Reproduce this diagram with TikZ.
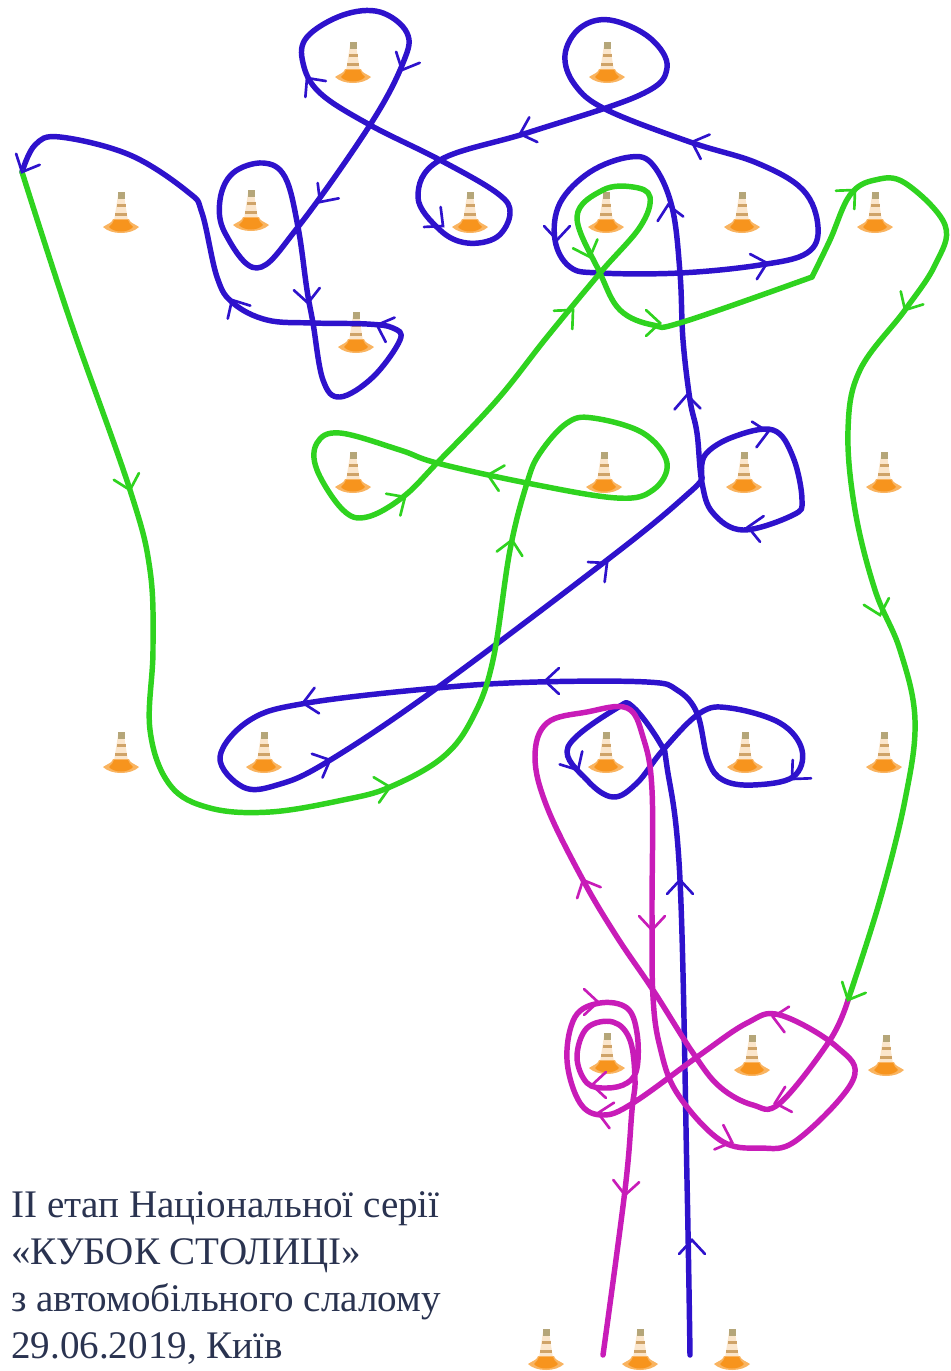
\documentclass[tikz,border=0pt]{standalone}
\usepackage{fontspec}
\setmainfont{Liberation Serif}
\definecolor{bluepath}{HTML}{2E12CC}
\definecolor{greenpath}{HTML}{2FD31F}
\definecolor{magpath}{HTML}{C81CB8}
\definecolor{conebase}{HTML}{F7941D}
\definecolor{coneband}{HTML}{FBE6CC}
\definecolor{conestripe}{HTML}{CFA368}
\definecolor{conetip}{HTML}{B5A679}
\definecolor{textcol}{HTML}{2A3350}
\tikzset{
  route/.style={line width=4.1pt,line join=round,line cap=round},
  coneform/.pic={
    \fill[coneband] (-7,8) -- (-3,-18) -- (3,-18) -- (7,8) -- cycle;
    \fill[conestripe] (-4.5,-9) rectangle (4.5,-6);
    \fill[conestripe] (-6,0) rectangle (6,3);
    \fill[conetip] (-3.5,-14) rectangle (3.5,-21);
    \fill[conebase!70!white] (-18,14) .. controls (-12,10) and (-9,10) .. (-8,6) -- (8,6) .. controls (9,10) and (12,10) .. (18,14) .. controls (10,22) and (-10,22) .. (-18,14) -- cycle;
    \fill[conebase] (-12,14) .. controls (-9,11) and (-8,10) .. (-7,7) -- (7,7) .. controls (8,10) and (9,11) .. (12,14) .. controls (7,20) and (-7,20) .. (-12,14) -- cycle;
  }
}
\newcommand{\arw}[4]{\draw[#1,line width=2pt,line cap=round,line join=miter,shift={(#2)},rotate=#3] (-14,13) -- (0,0) -- (-14,-13);}
\begin{document}
\begin{tikzpicture}[x=0.75pt,y=-0.75pt]
\useasboundingbox (0,0) rectangle (950,1371);
% cones
\foreach \a/\b in {353/63,607/63,121/213,251/211,470/213,606/213,742/213,875/213,356/333,353/473,604/473,744/473,884/473,121/753,264/753,606/753,745/753,884/753,607/1054,752/1056,886/1056,546/1350,640/1350,732/1350}{
  \pic at (\a,\b) {coneform};
}
% blue route, runs that meet at a sharp join by the loop
\draw[route,bluepath] plot[smooth,tension=0.62] coordinates {
 (690,1355) (687,1180) (680,880) (667,767) (660,743) (633,707) (617,708) (568,747) (587,780) (613,797) (637,783) (663,750) (700,713) (730,708) (780,723) (802,750) (793,777) (753,785) (723,780) (708,760) (697,713) (677,690) (647,682) (537,682) (437,688) (307,703) (250,720) (220,757) (243,787) (277,785) (327,762) (437,688) (620,550) (690,492) (702,478)};
\draw[route,bluepath] plot[smooth,tension=0.62] coordinates {
 (702,478) (705,455) (733,437) (773,430) (793,457) (802,500) (793,515) (743,530) (713,513) (702,483) (697,433) (690,400) (683,340) (680,273) (672,207) (653,165) (630,157) (590,172) (560,203) (555,240) (570,267) (600,273) (680,273) (760,265) (807,253) (818,227) (803,190) (757,163) (690,142) (607,110) (575,85) (565,55) (580,28) (610,20) (650,38) (667,68) (640,95) (530,132) (440,160) (418,197) (440,230) (467,243) (497,237) (510,213) (497,193) (440,160) (370,125) (320,93) (303,63) (307,37) (343,15) (380,12) (407,33) (403,63) (370,125) (298,227) (257,268) (225,233) (220,200) (233,173) (263,163) (285,177) (298,227) (307,290) (313,323) (323,380) (340,397) (373,377) (400,340) (393,328) (367,324) (313,323) (267,320) (233,303) (217,277) (202,213) (188,192) (130,155) (60,137) (35,145) (22,172)};
% green route
\draw[route,greenpath] plot[smooth,tension=0.62] coordinates {
 (22,172) (70,320) (130,490) (150,570) (153,650) (150,730) (170,785) (210,808) (270,812) (343,800) (390,787) (443,757) (473,717) (493,660) (510,550) (527,483) (540,453) (567,423) (593,418) (643,433) (667,463) (653,490) (617,498) (527,483) (437,463) (400,450) (340,433) (317,443) (317,470) (343,510) (367,517) (403,497) (437,463) (497,400) (547,337) (600,273) (640,227) (650,197) (633,187) (603,190) (577,217) (600,273) (620,310) (653,325) (683,322) (812,277)};
\draw[route,greenpath] plot[smooth,tension=0.62] coordinates {
 (812,277) (830,240) (850,195) (875,180) (905,183) (945,225) (935,265) (905,310) (860,370) (848,430) (855,510) (875,590) (900,650) (915,720) (905,800) (880,900) (848,1000)};
% magenta route
\draw[route,magpath] plot[smooth,tension=0.62] coordinates {
 (848,1000) (830,1040) (780,1103) (753,1105) (720,1087) (693,1053) (653,990) (617,937) (583,880) (547,807) (535,757) (547,723) (587,712) (627,708) (643,737) (652,790) (652,913) (653,997) (660,1047) (677,1093) (720,1140) (760,1148) (797,1140) (853,1080) (837,1047) (780,1015) (747,1023) (697,1057) (633,1103) (603,1115) (580,1103) (567,1060) (575,1017) (600,1003) (627,1008) (637,1033) (637,1068) (627,1083) (607,1088) (587,1083) (577,1057) (587,1028) (613,1022) (630,1040) (635,1080) (632,1110) (625,1190) (603,1355)};
% blue arrows
\foreach \x/\y/\d in {692/1240/90,680/880/90,578/770/-60,792/779/-135,545/681/180,303/703/190,330/760/24,607/563/40,768/432/10,748/527/172,687/395/92,668/205/100,557/240/-90,767/263/15,692/142/160,520/134/198,443/226/-40,402/70/-115,307/78/128,320/202/-126,308/303/-85,232/300/120,377/325/160,22/172/-115}{
  \arw{bluepath}{\x,\y}{\d}}
\foreach \x/\y/\d in {130/490/-75,390/787/12,512/540/80,488/475/167,405/497/33,573/310/45,590/257/-70,660/323/0,855/190/45,905/310/-120,880/615/-75,848/1000/-115}{
  \arw{greenpath}{\x,\y}{\d}}
\foreach \x/\y/\d in {775/1103/195,583/880/115,652/930/-90,732/1142/-20,773/1017/170,598/1113/170,598/1002/0,592/1085/180,625/1195/-95}{
  \arw{magpath}{\x,\y}{\d}}
% caption
\node[anchor=north west,align=left,inner sep=0pt,font=\fontsize{29.3}{35.3}\selectfont,text=textcol] (caption) at (11,1191) {ІІ етап Національної серії\\«КУБОК СТОЛИЦІ»\\з автомобільного слалому\\29.06.2019, Київ};
\end{tikzpicture}
\end{document}
